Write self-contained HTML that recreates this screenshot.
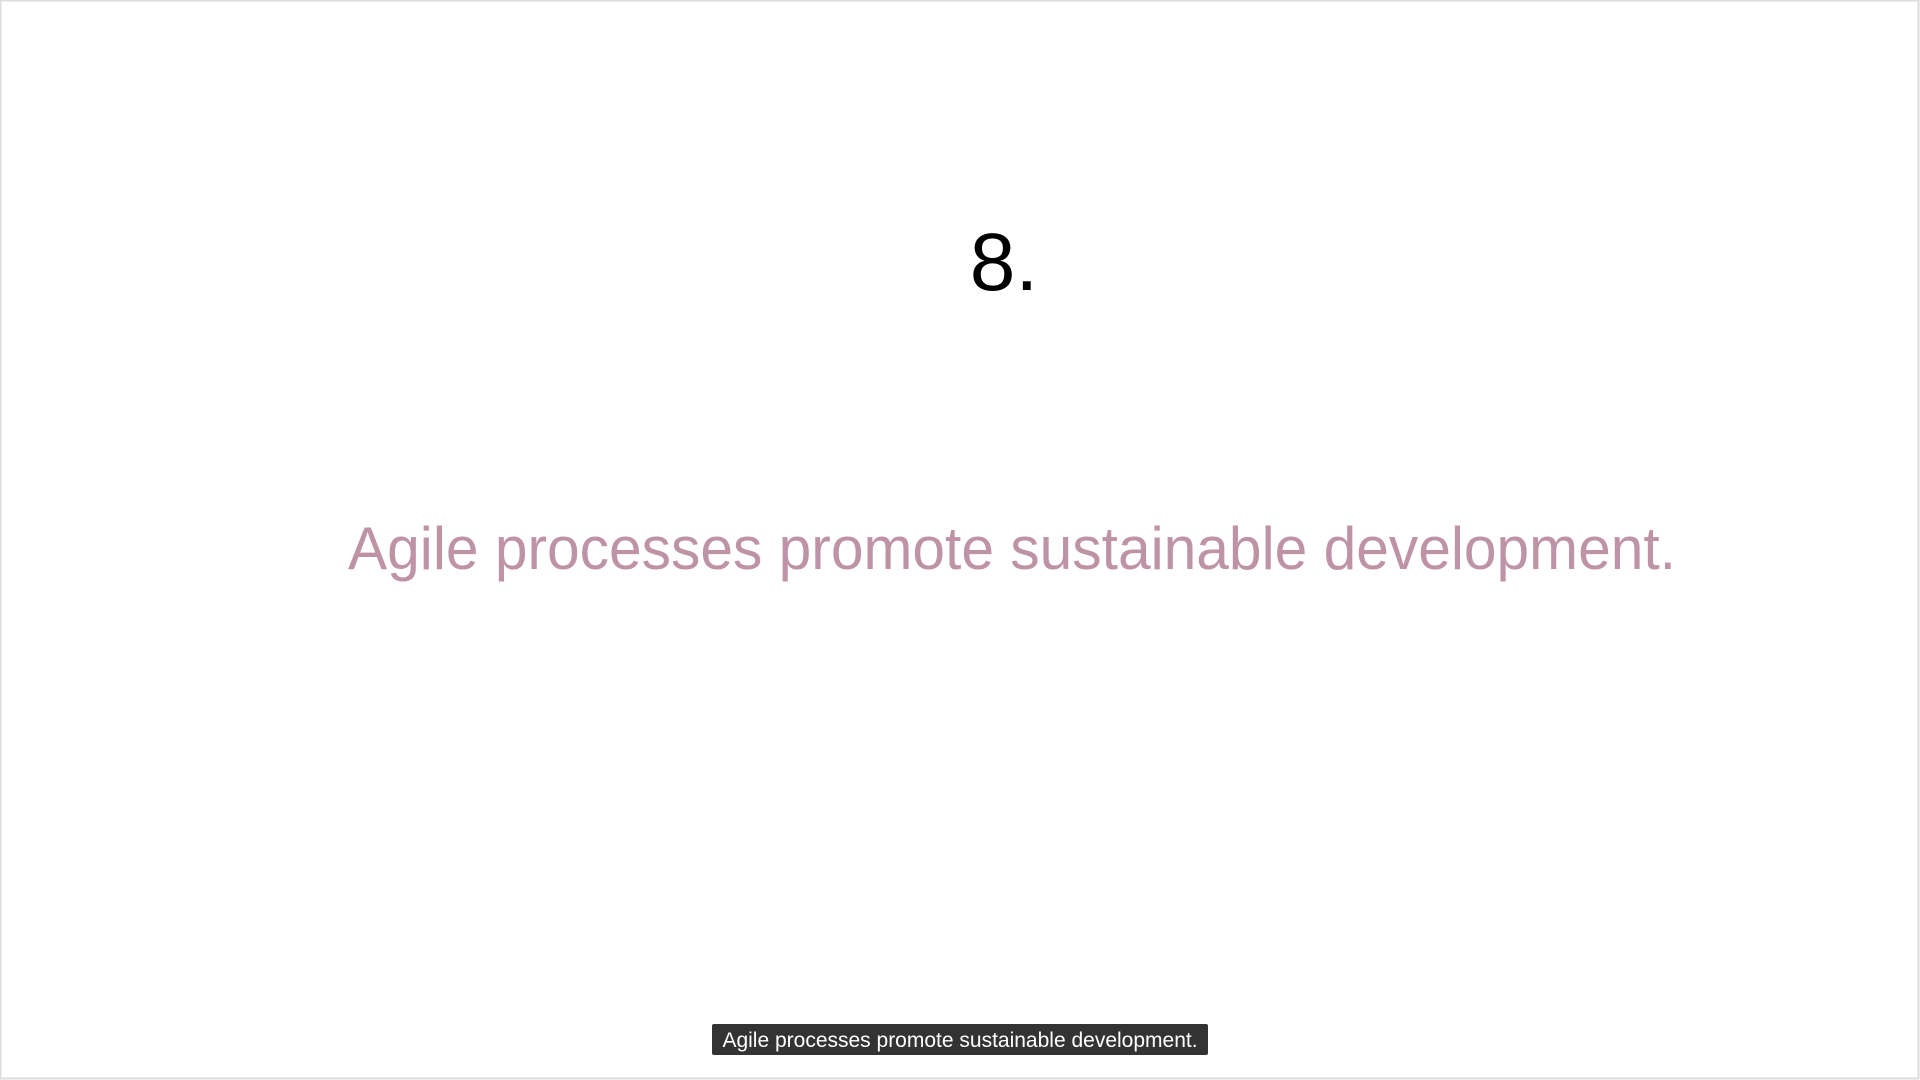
<!DOCTYPE html>
<html><head><meta charset="utf-8"><style>
html,body{margin:0;padding:0;background:#fff;width:1920px;height:1080px;overflow:hidden}
svg{display:block}
</style></head><body>
<svg width="1920" height="1080">
<rect x="0.5" y="0.5" width="1918" height="1078" fill="#fff" stroke="#dcdcdc" stroke-width="2"/>
<text x="1004" y="290" font-family="Liberation Sans, sans-serif" font-size="82" fill="#000" text-anchor="middle">8.</text>
<text x="348" y="569" font-family="Liberation Sans, sans-serif" font-size="60" fill="#be93a6" textLength="1328" lengthAdjust="spacingAndGlyphs">Agile processes promote sustainable development.</text>
<rect x="712" y="1024" width="496" height="31" rx="2" fill="#333"/>
<text x="960" y="1047" font-family="Liberation Sans, sans-serif" font-size="21" fill="#fff" text-anchor="middle">Agile processes promote sustainable development.</text>
</svg>
</body></html>
